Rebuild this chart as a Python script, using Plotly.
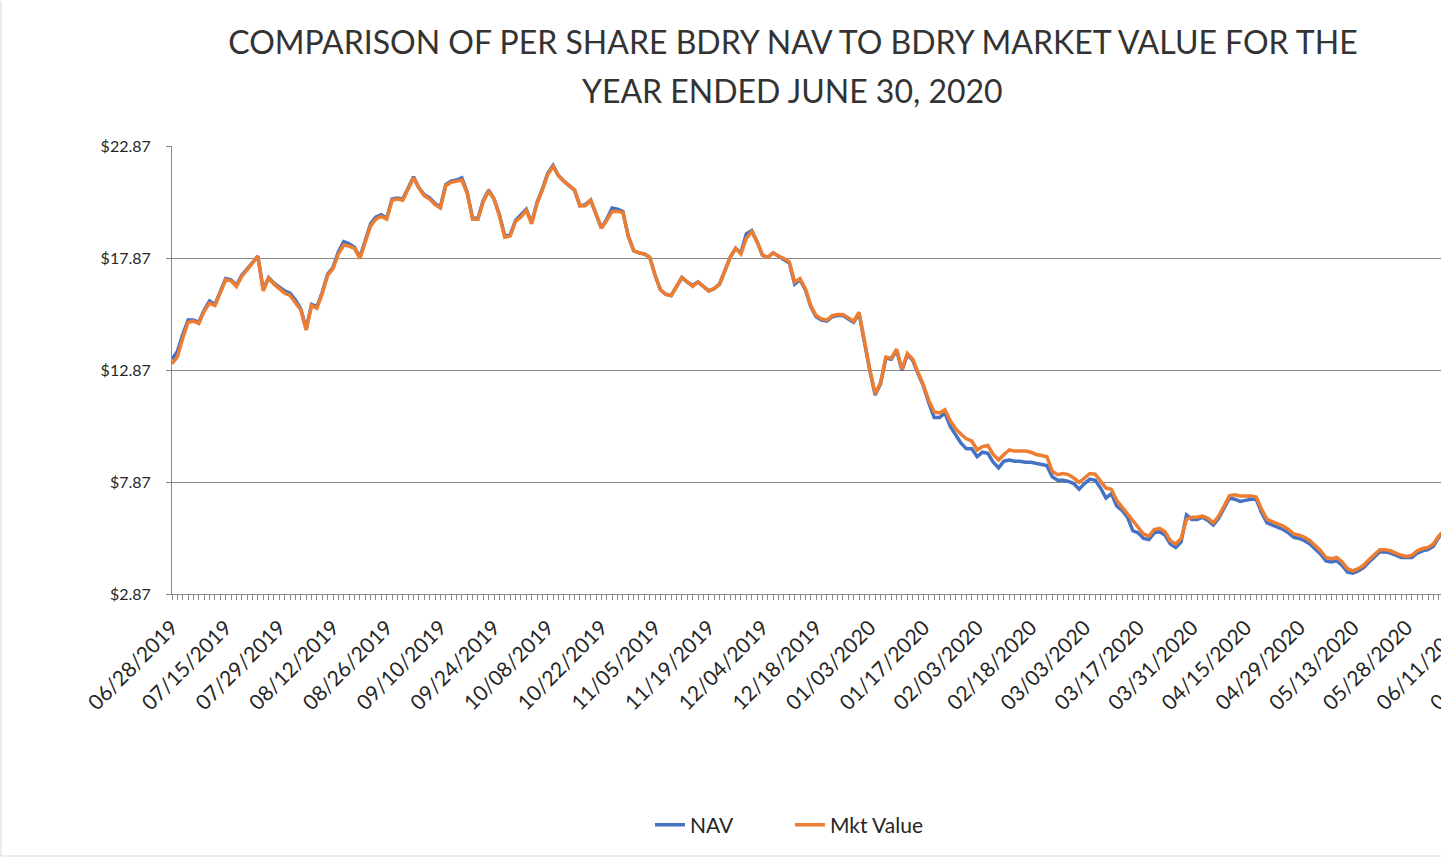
import pandas as pd
import plotly.graph_objects as go

# trading days of the fund year (NYSE holidays removed)
holidays = ["2019-07-04", "2019-09-02", "2019-11-28", "2019-12-25", "2020-01-01",
            "2020-01-20", "2020-02-17", "2020-04-10", "2020-05-25"]
days = pd.bdate_range("2019-06-28", "2020-06-30")
days = days[~days.isin(pd.to_datetime(holidays))]
dates = [d.strftime("%m/%d/%Y") for d in days]

# values (only the part that is visible in the picture)
mkt_value = [
    13.15, 13.45, 14.3, 15.0, 15.05, 14.95, 15.5, 15.85, 15.75, 16.35,
    16.9, 16.85, 16.6, 17.05, 17.35, 17.65, 17.95, 16.4, 16.98,
    16.7, 16.5, 16.3, 16.2, 15.9, 15.55, 14.65, 15.75, 15.63, 16.3,
    17.1, 17.4, 18.05, 18.45, 18.4, 18.3, 17.85, 18.6, 19.3, 19.6,
    19.72, 19.6, 20.45, 20.5, 20.45, 20.95, 21.45, 21.0, 20.65, 20.5,
    20.25, 20.1, 21.1, 21.25, 21.3, 21.35, 20.75, 19.6, 19.6,
    20.4, 20.85, 20.5, 19.75, 18.8, 18.85, 19.5, 19.7, 20.0, 19.4,
    20.3, 20.9, 21.6, 21.95, 21.55, 21.3, 21.1, 20.9, 20.2, 20.2,
    20.45, 19.85, 19.2, 19.55, 19.95, 19.95, 19.9, 18.85, 18.2,
    18.1, 18.05, 17.9, 17.1, 16.45, 16.25, 16.2, 16.6, 17.0, 16.8,
    16.6, 16.8, 16.6, 16.4, 16.5, 16.7, 17.3, 17.9, 18.3, 18.05,
    18.75, 19.05, 18.6, 18.0, 17.9, 18.1, 17.95, 17.85, 17.7, 16.8,
    16.95, 16.5, 15.75, 15.3, 15.15, 15.1, 15.3, 15.35, 15.35,
    15.2, 15.05, 15.45, 14.15, 12.9, 11.8, 12.3, 13.45, 13.4, 13.8,
    12.9, 13.6, 13.35, 12.75, 12.2, 11.5, 11.0, 10.95, 11.1, 10.6,
    10.25, 10.0, 9.8, 9.7, 9.3, 9.45, 9.5, 9.1, 8.85,
    9.1, 9.3, 9.25, 9.25, 9.25, 9.2, 9.1, 9.05, 9.0, 8.35,
    8.2, 8.25, 8.2, 8.05, 7.85, 8.05, 8.25, 8.22, 7.9, 7.6,
    7.55, 7.05, 6.75, 6.45, 6.15, 5.9, 5.55, 5.45, 5.75, 5.8,
    5.65, 5.25, 5.1, 5.35, 6.2, 6.3, 6.3, 6.35, 6.25,
    6.05, 6.35, 6.8, 7.25, 7.3, 7.25, 7.25, 7.25, 7.2, 6.65,
    6.2, 6.1, 6.0, 5.9, 5.75, 5.55, 5.5, 5.4, 5.25, 5.05,
    4.8, 4.5, 4.45, 4.5, 4.3, 4.0, 3.9, 4.0, 4.15,
    4.4, 4.6, 4.85, 4.85, 4.8, 4.7, 4.6, 4.55, 4.6, 4.8,
    4.9, 4.95, 5.1, 5.45, 5.7,
]

nav = [
    13.35, 13.7, 14.45, 15.1, 15.1, 15.0, 15.55, 15.95, 15.8, 16.4,
    16.95, 16.9, 16.65, 17.1, 17.4, 17.7, 17.95, 16.45, 17.0,
    16.75, 16.55, 16.4, 16.3, 16.0, 15.6, 14.7, 15.8, 15.7, 16.35,
    17.15, 17.45, 18.15, 18.6, 18.5, 18.35, 17.9, 18.65, 19.4, 19.7,
    19.8, 19.65, 20.5, 20.55, 20.5, 21.0, 21.5, 21.0, 20.7, 20.55,
    20.3, 20.15, 21.15, 21.3, 21.35, 21.45, 20.8, 19.65, 19.65,
    20.45, 20.9, 20.5, 19.8, 18.85, 18.9, 19.55, 19.8, 20.05, 19.45,
    20.35, 20.95, 21.65, 22.0, 21.55, 21.3, 21.1, 20.9, 20.2, 20.25,
    20.45, 19.85, 19.2, 19.6, 20.1, 20.05, 19.95, 18.85, 18.2,
    18.1, 18.05, 17.9, 17.1, 16.45, 16.25, 16.2, 16.6, 17.0, 16.8,
    16.65, 16.8, 16.6, 16.4, 16.5, 16.7, 17.3, 17.9, 18.3, 18.1,
    18.95, 19.1, 18.6, 18.0, 17.9, 18.1, 17.95, 17.8, 17.65, 16.7,
    16.9, 16.45, 15.7, 15.25, 15.1, 15.05, 15.25, 15.3, 15.3,
    15.15, 15.0, 15.4, 14.1, 12.85, 11.75, 12.25, 13.4, 13.35, 13.75,
    12.85, 13.55, 13.3, 12.7, 12.15, 11.4, 10.75, 10.75, 10.95, 10.35,
    10.0, 9.6, 9.35, 9.35, 9.0, 9.2, 9.15, 8.75, 8.5,
    8.8, 8.85, 8.8, 8.8, 8.75, 8.75, 8.7, 8.65, 8.6, 8.1,
    7.95, 7.95, 7.9, 7.8, 7.55, 7.8, 8.0, 7.95, 7.6, 7.15,
    7.35, 6.8, 6.6, 6.3, 5.7, 5.6, 5.35, 5.3, 5.6, 5.65,
    5.5, 5.1, 4.95, 5.2, 6.4, 6.2, 6.2, 6.3, 6.15,
    5.95, 6.25, 6.7, 7.15, 7.1, 7.0, 7.05, 7.1, 7.1, 6.5,
    6.05, 5.95, 5.85, 5.75, 5.6, 5.4, 5.35, 5.25, 5.1, 4.9,
    4.65, 4.35, 4.3, 4.35, 4.15, 3.85, 3.8, 3.9, 4.05,
    4.3, 4.5, 4.75, 4.75, 4.7, 4.6, 4.5, 4.5, 4.5, 4.7,
    4.8, 4.85, 5.0, 5.4, 5.6,
]

y_ticks = [2.87, 7.87, 12.87, 17.87, 22.87]

tick_text = [d if i % 10 == 0 else "" for i, d in enumerate(dates)]

# the original chart is wider than the picture; the window only shows its left part
W, H = 1588, 859
L, T, B = 172, 146, 594
STEP = 5.368                     # px per trading day
R = L + STEP * (len(dates) - 1)
PW, PH = R - L, B - T


def px(x):
    return (x - L) / PW


def py(y):
    return (B - y) / PH


fig = go.Figure()

fig.add_trace(go.Scatter(
    name="NAV",
    x=dates[:len(nav)],
    y=nav,
    mode="lines",
    line=dict(color="#4472C4", width=3.5),
))
fig.add_trace(go.Scatter(
    name="Mkt Value",
    x=dates[:len(mkt_value)],
    y=mkt_value,
    mode="lines",
    line=dict(color="#ED7D31", width=3.5),
))

fig.update_layout(
    width=W,
    height=H,
    margin=dict(l=L, r=W - R, t=T, b=H - B),
    paper_bgcolor="white",
    plot_bgcolor="white",
    font=dict(family="Lato, Open Sans, sans-serif", color="#404040", size=16),
    title=dict(
        text="COMPARISON OF PER SHARE BDRY NAV TO BDRY MARKET VALUE FOR THE",
        font=dict(size=32, color="#333333"),
        xref="paper", x=px(793), xanchor="center",
        yref="container", y=1 - 43 / H, yanchor="middle",
    ),
    legend=dict(
        orientation="h",
        x=px(790), xanchor="center",
        y=py(825), yanchor="middle",
        font=dict(size=21, color="#262626"),
        entrywidth=95,
        entrywidthmode="pixels",
    ),
    showlegend=True,
)

fig.add_annotation(
    text="YEAR ENDED JUNE 30, 2020",
    xref="paper", yref="paper",
    x=px(793), y=py(90), xanchor="center", yanchor="middle",
    showarrow=False,
    font=dict(size=32, color="#333333"),
)

fig.update_xaxes(
    type="category",
    categoryorder="array",
    categoryarray=dates,
    range=[0, len(dates) - 1],
    tickmode="array",
    tickvals=dates,
    ticktext=tick_text,
    tickangle=-45,
    ticks="outside",
    ticklen=5,
    tickcolor="#888888",
    showline=True,
    linecolor="#888888",
    showgrid=False,
    automargin=False,
    tickfont=dict(size=21, color="#262626"),
    ticklabelstandoff=7,
)

fig.update_yaxes(
    range=[2.87, 22.87],
    tickvals=y_ticks,
    tickformat="$.2f",
    ticks="outside",
    ticklen=5,
    tickcolor="#888888",
    showline=True,
    linecolor="#888888",
    showgrid=True,
    gridcolor="#888888",
    gridwidth=1,
    zeroline=False,
    automargin=False,
    tickfont=dict(size=16, color="#262626"),
    ticklabelstandoff=12,
)

# chart border
fig.add_shape(type="line", xref="paper", yref="paper",
              x0=px(1), x1=px(1), y0=py(1), y1=py(856),
              line=dict(color="#D9D9D9", width=1))
fig.add_shape(type="line", xref="paper", yref="paper",
              x0=px(1), x1=px(W), y0=py(856), y1=py(856),
              line=dict(color="#D9D9D9", width=1))

fig.write_html("out.html", config={"displayModeBar": False},
               post_script="document.body.style.margin='0';")
